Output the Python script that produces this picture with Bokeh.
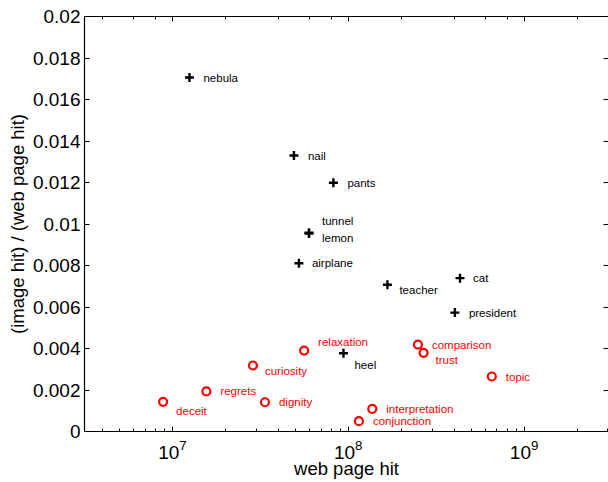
from bokeh.plotting import figure
from bokeh.models import ColumnDataSource, LogAxis, LinearAxis, FixedTicker, LogTicker
from bokeh.core.properties import value
from bokeh.embed import file_html
from bokeh.resources import INLINE

# ---- data ----
black_words = ["nebula", "nail", "pants", "tunnel", "lemon", "airplane",
               "teacher", "cat", "president", "heel"]
black_hits = [1.25e7, 4.91e7, 8.23e7, 5.98e7, 5.98e7, 5.24e7,
              1.67e8, 4.32e8, 4.04e8, 9.39e7]
black_ratio = [0.01706, 0.01330, 0.01199, 0.00958, 0.00954, 0.00811,
               0.00707, 0.00739, 0.00573, 0.00377]

red_words = ["deceit", "regrets", "curiosity", "dignity", "relaxation",
             "comparison", "trust", "topic", "interpretation", "conjunction"]
red_hits = [8.85e6, 1.56e7, 2.87e7, 3.36e7, 5.61e7,
            2.49e8, 2.68e8, 6.55e8, 1.37e8, 1.15e8]
red_ratio = [0.00143, 0.00193, 0.00318, 0.00141, 0.00390,
             0.00419, 0.00379, 0.00265, 0.00109, 0.00050]

y_ticks = [0, 0.002, 0.004, 0.006, 0.008, 0.01, 0.012, 0.014, 0.016, 0.018, 0.02]
y_tick_labels = ["0", "0.002", "0.004", "0.006", "0.008", "0.01",
                 "0.012", "0.014", "0.016", "0.018", "0.02"]

x_title = "web page hit"
y_title = "(image hit) / (web page hit)"

# ---- label placement (screen pixels) ----
black_dx = [14, 14, 14, 13, 13, 13, 12, 13, 14, 11]
black_dy = [0, 0, 0, -12, 4, 0, 5, 0, 0, 12]
red_dx = [13, 14, 12, 14, 14, 14, 12, 14, 14, 14]
red_dy = [9, 0, 5, 0, -9, 0, 7, 0, 0, 0]

FONT = "Liberation Sans"

black_src = ColumnDataSource(dict(x=black_hits, y=black_ratio, t=black_words,
                                  dx=black_dx, dy=black_dy))
red_src = ColumnDataSource(dict(x=red_hits, y=red_ratio, t=red_words,
                                dx=red_dx, dy=red_dy))

p = figure(width=608, height=482, x_axis_type="log",
           x_range=(10 ** 6.5, 3.02e9), y_range=(0, 0.02),
           output_backend="svg", toolbar_location=None,
           min_border_left=84, min_border_right=0,
           min_border_top=16, min_border_bottom=51)

p.xgrid.visible = False
p.ygrid.visible = False
p.outline_line_color = None
p.background_fill_color = "white"
p.border_fill_color = "white"

ovr = dict(zip(y_ticks, y_tick_labels))

xa = p.xaxis[0]
ya = p.yaxis[0]
xa.axis_label = x_title
ya.axis_label = y_title
ya.ticker = FixedTicker(ticks=y_ticks)
ya.major_label_overrides = ovr

for ax in (xa, ya):
    ax.axis_line_color = "black"
    ax.axis_line_width = 1.2
    ax.major_tick_in = 5
    ax.major_tick_out = 0
    ax.minor_tick_in = 3
    ax.minor_tick_out = 0
    ax.major_tick_line_color = "black"
    ax.minor_tick_line_color = "black"
    ax.major_label_text_font = FONT
    ax.major_label_text_font_size = "19px"
    ax.major_label_text_color = "black"
    ax.axis_label_text_font = FONT
    ax.axis_label_text_font_size = "18.5px"
    ax.axis_label_text_font_style = "normal"
    ax.axis_label_text_color = "black"
    ax.major_label_standoff = 4
    ax.axis_label_standoff = 2
ya.minor_tick_line_color = None
xa.major_label_standoff = 8
xa.axis_label_standoff = -4

# mirrored axes (top / right) with ticks only
top = LogAxis(ticker=LogTicker())
right = LinearAxis(ticker=FixedTicker(ticks=y_ticks))
for ax in (top, right):
    ax.major_label_text_font_size = "1px"
    ax.major_label_text_alpha = 0
    ax.major_label_standoff = 0
    ax.major_tick_in = 5
    ax.major_tick_out = 0
    ax.minor_tick_in = 3
    ax.minor_tick_out = 0
    ax.axis_line_color = "black"
    ax.axis_line_width = 1.2
    ax.major_tick_line_color = "black"
    ax.minor_tick_line_color = "black"
right.minor_tick_line_color = None
right.axis_line_color = None
p.add_layout(top, "above")
p.add_layout(right, "right")

# markers
p.scatter("x", "y", source=black_src, marker="cross", size=9,
          line_color="black", line_width=2.4)
p.scatter("x", "y", source=red_src, marker="circle", size=8,
          fill_color=None, line_color="#ff0000", line_width=2.2)

# labels
p.text("x", "y", text="t", source=black_src, x_offset="dx", y_offset="dy",
       text_font=value(FONT), text_font_size="11.5px", text_color="black",
       text_align="left", text_baseline="middle")
p.text("x", "y", text="t", source=red_src, x_offset="dx", y_offset="dy",
       text_font=value(FONT), text_font_size="11.5px", text_color="#ff0000",
       text_align="left", text_baseline="middle")

open("out.html", "w").write(file_html(p, INLINE))
